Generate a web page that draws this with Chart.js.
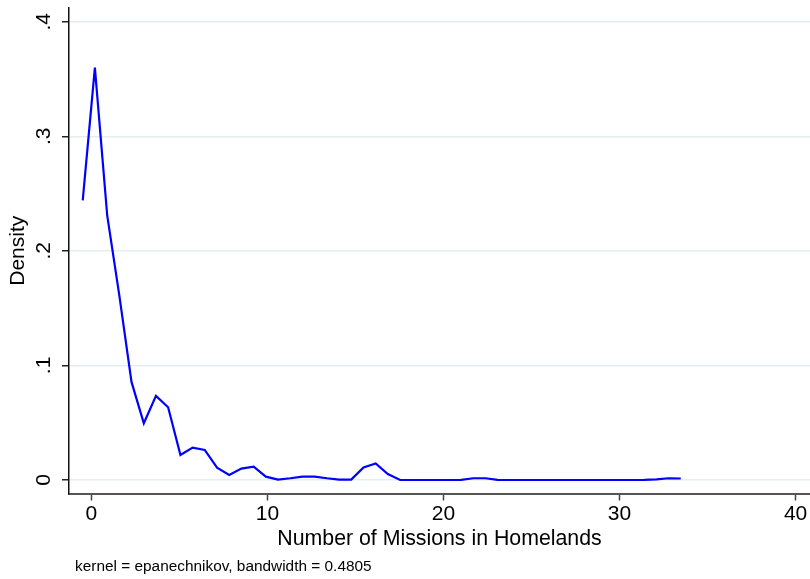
<!DOCTYPE html>
<html>
<head>
<meta charset="utf-8">
<script src="https://cdn.jsdelivr.net/npm/chart.js@4/dist/chart.umd.min.js"></script>
<style>
  html, body { margin: 0; padding: 0; background: #fff; }
  #wrap { width: 810px; height: 579px; }
</style>
</head>
<body>
<div id="wrap"><canvas id="kd" width="810" height="579"></canvas></div>
<script>
// Kernel density estimate of missions per homeland (evaluation grid and density)
const gridX = [-0.49, 0.20, 0.90, 1.59, 2.28, 2.98, 3.67, 4.36, 5.06, 5.75,
               6.44, 7.14, 7.83, 8.52, 9.22, 9.91, 10.60, 11.30, 11.99, 12.68,
               13.38, 14.07, 14.76, 15.46, 16.15, 16.84, 17.54, 18.23, 18.92, 19.62,
               20.31, 21.00, 21.70, 22.39, 23.08, 23.78, 24.47, 25.16, 25.86, 26.55,
               27.24, 27.94, 28.63, 29.32, 30.02, 30.71, 31.40, 32.10, 32.79, 33.48];
const density = [0.244, 0.360, 0.231, 0.161, 0.0856, 0.0495, 0.0734, 0.0635, 0.0218, 0.0282,
                 0.0262, 0.0107, 0.0044, 0.0099, 0.0116, 0.0029, 0.0004, 0.0015, 0.0030, 0.0030,
                 0.0015, 0.0003, 0.0003, 0.0110, 0.0145, 0.0052, 0.0000, 0.0000, 0.0000, 0.0000,
                 0.0000, 0.0001, 0.0015, 0.0015, 0.0001, 0.0000, 0.0000, 0.0000, 0.0000, 0.0000,
                 0.0000, 0.0000, 0.0000, 0.0000, 0.0000, 0.0000, 0.0001, 0.0005, 0.0015, 0.0013];

const xTicks = [0, 10, 20, 30, 40];
const xTickLabels = ['0', '10', '20', '30', '40'];
const yTicks = [0, 0.1, 0.2, 0.3, 0.4];
const yTickLabels = ['0', '.1', '.2', '.3', '.4'];

const xTitle = 'Number of Missions in Homelands';
const yTitle = 'Density';
const noteText = 'kernel = epanechnikov, bandwidth = 0.4805';

const FONT = "'Liberation Sans', Arial, Helvetica, sans-serif";

// Vertical tick labels on the density axis and the kernel note under the plot
const stataText = {
  id: 'stataText',
  afterDraw(chart) {
    const ctx = chart.ctx;
    const ys = chart.scales.y;
    ctx.save();
    ctx.fillStyle = '#000';
    ctx.font = '21px ' + FONT;
    ys.ticks.forEach((t, i) => {
      const py = ys.getPixelForValue(t.value);
      ctx.save();
      ctx.translate(49.5, py);
      ctx.rotate(-Math.PI / 2);
      ctx.textAlign = 'center';
      ctx.textBaseline = 'alphabetic';
      ctx.fillText(yTickLabels[i], 0, 0);
      ctx.restore();
    });
    ctx.font = '15.4px ' + FONT;
    ctx.textAlign = 'left';
    ctx.textBaseline = 'alphabetic';
    ctx.fillText(noteText, 75, 571);
    ctx.restore();
  }
};

new Chart(document.getElementById('kd'), {
  type: 'scatter',
  data: {
    datasets: [{
      data: gridX.map((x, i) => ({ x: x, y: density[i] })),
      showLine: true,
      borderColor: '#0000ff',
      backgroundColor: '#0000ff',
      borderWidth: 2.2,
      pointRadius: 0,
      tension: 0,
      fill: false
    }]
  },
  options: {
    responsive: false,
    devicePixelRatio: 1,
    animation: false,
    layout: { padding: { top: 8, left: 0, right: 0, bottom: 0 } },
    plugins: {
      legend: { display: false },
      tooltip: { enabled: false }
    },
    scales: {
      x: {
        type: 'linear',
        min: -1.27,
        max: 40.82,
        afterBuildTicks: s => { s.ticks = xTicks.map(v => ({ value: v })); },
        afterFit: s => { s.height = 85.5; },
        ticks: {
          color: '#000',
          font: { family: FONT, size: 21 },
          padding: 1,
          maxRotation: 0,
          autoSkip: false,
          callback: (v) => xTickLabels[xTicks.indexOf(v)]
        },
        grid: {
          drawOnChartArea: false,
          drawTicks: true,
          tickLength: 7,
          tickColor: '#444',
          tickWidth: 1.5
        },
        border: { display: true, color: '#555', width: 2 },
        title: {
          display: true,
          text: xTitle,
          color: '#000',
          font: { family: FONT, size: 21.3, lineHeight: 1.2 },
          padding: { top: 0, bottom: 27.4 }
        }
      },
      y: {
        type: 'linear',
        min: -0.0118,
        max: 0.412,
        afterBuildTicks: s => { s.ticks = yTicks.map(v => ({ value: v })); },
        afterFit: s => { s.width = 69; },
        ticks: { display: false },
        grid: {
          color: '#e4edf0',
          lineWidth: 1.5,
          drawTicks: true,
          tickLength: 7,
          tickColor: '#222',
          tickWidth: 1.5
        },
        border: { display: true, color: '#111', width: 1.5 },
        title: {
          display: true,
          text: yTitle,
          color: '#000',
          font: { family: FONT, size: 21, lineHeight: 1.2 },
          padding: { top: 6, bottom: 0 }
        }
      }
    }
  },
  plugins: [stataText]
});
</script>
</body>
</html>
